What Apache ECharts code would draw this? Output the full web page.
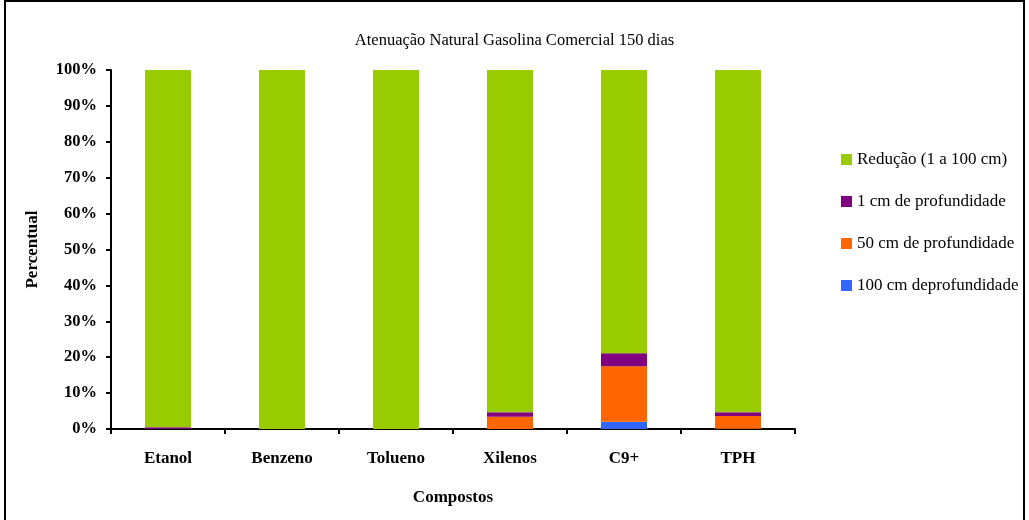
<!DOCTYPE html>
<html><head><meta charset="utf-8">
<script src="https://cdn.jsdelivr.net/npm/echarts@6/dist/echarts.min.js"></script>
<style>html,body{margin:0;padding:0;background:#fff}#c{width:1029px;height:520px}</style>
</head><body><div id="c"></div>
<script>
const categories = ['Etanol','Benzeno','Tolueno','Xilenos','C9+','TPH'];
const s100 = [0, 0, 0, 0, 2.0, 0.1];
const s50 = [0, 0, 0, 3.4, 15.5, 3.5];
const s1 = [0.5, 0, 0, 1.3, 3.6, 1.1];
const sRed = [99.5, 100, 100, 95.3, 78.9, 95.3];
const names = ['100 cm deprofundidade','50 cm de profundidade','1 cm de profundidade','Redução (1 a 100 cm)'];
const colors = ['#3366FF','#FF6600','#800080','#99CC00'];
const yTicks = [0,10,20,30,40,50,60,70,80,90,100];

const font = 'Liberation Serif';
const chart = echarts.init(document.getElementById('c'));
const dataSets = [s100, s50, s1, sRed];
chart.setOption({
  animation:false,
  backgroundColor:'#fff',
  title:{text:'Atenuação Natural Gasolina Comercial 150 dias', left:'center', top:27,
    textStyle:{fontFamily:font,fontSize:16.5,fontWeight:'normal',color:'#000'}},
  grid:{left:111, right:234, top:70, bottom:91},
  legend:{orient:'vertical', left:836, top:146, itemGap:25, itemWidth:11, itemHeight:11,
    data:[names[3],names[2],names[1],names[0]],
    textStyle:{fontFamily:font,fontSize:17,color:'#000'}, icon:'rect'},
  xAxis:{type:'category', data:categories, name:'Compostos', nameLocation:'middle', nameGap:60,
    nameTextStyle:{fontFamily:font,fontSize:17,fontWeight:'bold',color:'#000'},
    axisLine:{lineStyle:{color:'#000',width:2}},
    axisTick:{show:true,length:5,lineStyle:{color:'#000',width:2}},
    axisLabel:{fontFamily:font,fontSize:17,fontWeight:'bold',color:'#000',margin:21}},
  yAxis:{type:'value', min:0, max:100, interval:10, name:'Percentual', nameLocation:'middle', nameGap:70,
    nameTextStyle:{fontFamily:font,fontSize:17,fontWeight:'bold',color:'#000'},
    axisLine:{show:true,lineStyle:{color:'#000',width:2}},
    axisTick:{show:true,length:5,lineStyle:{color:'#000',width:2}},
    splitLine:{show:false},
    axisLabel:{fontFamily:font,fontSize:16.5,fontWeight:'bold',color:'#000',margin:14,
      formatter:v=>yTicks.includes(v)?v+'%':''}},
  series: dataSets.map((d,i)=>({name:names[i], type:'bar', stack:'t', data:d, barWidth:46,
    itemStyle:{color:colors[i]}})),
  graphic:[{type:'rect', shape:{x:5,y:1,width:1019,height:530}, style:{fill:'none',stroke:'#000',lineWidth:2}, silent:true}]
});
</script></body></html>
